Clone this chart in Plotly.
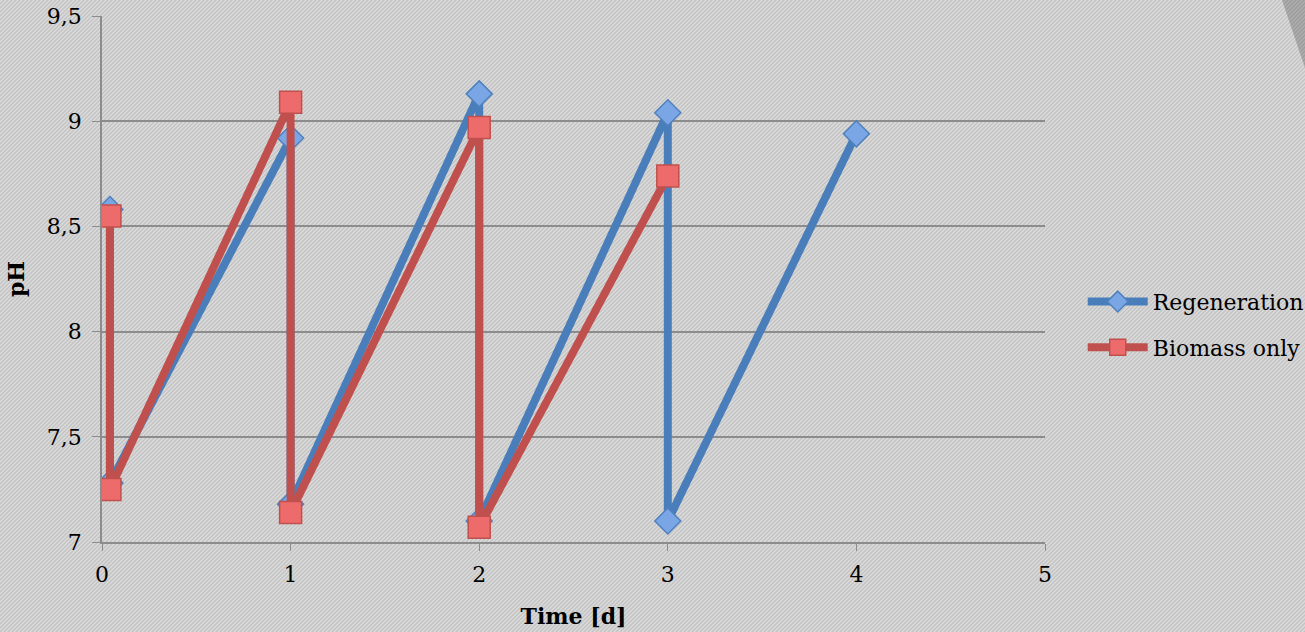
import base64
import plotly.graph_objects as go

# pH readings over the feeding cycles (time in days)
regen_time = [0.042, 0.042, 1, 1, 2, 2, 3, 3, 4]
regen_ph = [8.58, 7.28, 8.92, 7.18, 9.13, 7.10, 9.04, 7.10, 8.94]

biomass_time = [0.042, 0.042, 1, 1, 2, 2, 3]
biomass_ph = [8.55, 7.25, 9.09, 7.14, 8.97, 7.07, 8.74]

x_ticks = [0, 1, 2, 3, 4, 5]
y_ticks = [7, 7.5, 8, 8.5, 9, 9.5]

BLUE = "#4a7ebb"
RED = "#c0504d"
FONT = "DejaVu Serif"
FS = 22

W, H = 1305, 632
ML, MR, MT, MB = 102, 260, 16, 90
PW, PH = W - ML - MR, H - MT - MB

# diagonal hatch background as an inline SVG
svg = (
    f"<svg xmlns='http://www.w3.org/2000/svg' width='{W}' height='{H}'>"
    "<defs><pattern id='h' width='4' height='4' patternUnits='userSpaceOnUse'>"
    "<rect width='4' height='4' fill='#dcdcdc'/>"
    "<path d='M-1,1 l2,-2 M0,4 l4,-4 M3,5 l2,-2' stroke='#c2c2c2' stroke-width='1.4'/>"
    "</pattern></defs>"
    f"<rect width='{W}' height='{H}' fill='url(#h)'/>"
    "</svg>"
)
bg_uri = "data:image/svg+xml;base64," + base64.b64encode(svg.encode()).decode()

fig = go.Figure()

fig.add_trace(go.Scatter(
    x=regen_time, y=regen_ph, name="Regeneration", mode="lines+markers",
    legendgroup="a",
    line=dict(color=BLUE, width=8),
    marker=dict(symbol="diamond", size=20, color="#7aa6e6",
                line=dict(color="#4f81bd", width=1.5)),
))
fig.add_trace(go.Scatter(
    x=biomass_time, y=biomass_ph, name="Biomass only", mode="lines+markers",
    legendgroup="b",
    line=dict(color=RED, width=8),
    marker=dict(symbol="square", size=22, color="#ee6b6b",
                line=dict(color="#c0504d", width=1.5)),
))

fig.update_layout(
    width=W, height=H,
    margin=dict(l=ML, r=MR, t=MT, b=MB, autoexpand=False),
    paper_bgcolor="#d3d3d3",
    plot_bgcolor="rgba(0,0,0,0)",
    separators=",.",
    font=dict(family=FONT, size=FS, color="#000000"),
    showlegend=True,
    legend=dict(
        x=1.04, y=0.413, xanchor="left", yanchor="middle",
        bgcolor="rgba(0,0,0,0)", font=dict(family=FONT, size=FS),
        itemwidth=60, tracegroupgap=14, traceorder="grouped",
    ),
    images=[dict(
        source=bg_uri, xref="paper", yref="paper",
        x=-ML / PW, y=1 + MT / PH, sizex=W / PW, sizey=H / PH,
        xanchor="left", yanchor="top", sizing="stretch", layer="below",
    )],
    shapes=[dict(
        type="path", xref="paper", yref="paper",
        path=(f"M {(1282 - ML) / PW} {1 + MT / PH} "
              f"L {(1305 - ML) / PW} {1 + MT / PH} "
              f"L {(1305 - ML) / PW} {1 - (68 - MT) / PH} Z"),
        fillcolor="rgba(70,70,70,0.3)", line=dict(width=0), layer="below",
    )],
)

fig.update_xaxes(
    range=[0, 5], tickvals=x_ticks, showgrid=False, zeroline=False,
    showline=True, linecolor="#8c8c8c", linewidth=1.5,
    ticks="outside", ticklen=7, tickcolor="#8c8c8c", ticklabelstandoff=5,
    automargin=False,
    title=dict(text="<b>Time [d]</b>", font=dict(family=FONT, size=FS), standoff=22),
)
fig.update_yaxes(
    range=[7, 9.5], tickvals=y_ticks, tickformat=".1~f",
    showgrid=True, gridcolor="#8c8c8c", gridwidth=1.5, zeroline=False,
    showline=True, linecolor="#8c8c8c", linewidth=1.5,
    ticks="outside", ticklen=8, tickcolor="#8c8c8c", ticklabelstandoff=6,
    automargin=False,
    title=dict(text="<b>pH</b>", font=dict(family=FONT, size=FS), standoff=16),
)

fig.write_html("out.html")
